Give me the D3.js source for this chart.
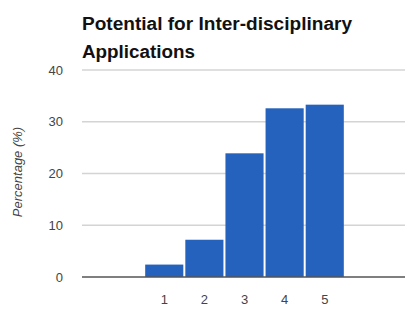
<!DOCTYPE html>
<html>
<head>
<meta charset="utf-8">
<script src="https://cdn.jsdelivr.net/npm/d3@7"></script>
<style>
  body { margin: 0; background: #fff; }
</style>
</head>
<body>
<div id="chart"></div>
<script>
// chart data
var categories = ['1', '2', '3', '4', '5'];
var values = [2.4, 7.2, 23.9, 32.6, 33.3];
var yTicks = [0, 10, 20, 30, 40];

var attrs = {
  svgWidth: 405,
  svgHeight: 314,
  barColor: '#2462bd',
  gridColor: '#d4d4d4',
  axisColor: '#555',
  textFill: '#444',
  font: 'Liberation Sans, Arial, sans-serif'
};

var svg = d3.select('#chart').append('svg')
  .attr('width', attrs.svgWidth)
  .attr('height', attrs.svgHeight)
  .attr('font-family', attrs.font);

// x: slot positions, two empty slots either side of the categories
var x = d3.scaleLinear().domain([-1.05, 7]).range([82, 405]);
var y = d3.scaleLinear().domain([0, 40]).range([277, 70]);
var barW = x(0.95) - x(0);

// grid lines
svg.append('g').selectAll('line')
  .data(yTicks.filter(d => d > 0))
  .join('line')
  .attr('x1', 82).attr('x2', 405)
  .attr('y1', d => y(d)).attr('y2', d => y(d))
  .attr('stroke', attrs.gridColor)
  .attr('stroke-width', 1.5);

// bars
svg.append('g').selectAll('rect')
  .data(values)
  .join('rect')
  .attr('x', (d, i) => x(i + 1) - barW / 2)
  .attr('width', barW)
  .attr('y', d => y(d))
  .attr('height', d => y(0) - y(d))
  .attr('fill', attrs.barColor);

// baseline
svg.append('line')
  .attr('x1', 82).attr('x2', 405)
  .attr('y1', y(0)).attr('y2', y(0))
  .attr('stroke', attrs.axisColor)
  .attr('stroke-width', 1.5);

// y tick labels
svg.append('g').selectAll('text')
  .data(yTicks)
  .join('text')
  .attr('x', 63)
  .attr('y', d => y(d))
  .attr('dy', '0.35em')
  .attr('text-anchor', 'end')
  .attr('font-size', 13)
  .attr('fill', attrs.textFill)
  .text(d => d);

// x tick labels
svg.append('g').selectAll('text')
  .data(categories)
  .join('text')
  .attr('x', (d, i) => x(i + 1))
  .attr('y', 304)
  .attr('text-anchor', 'middle')
  .attr('font-size', 13)
  .attr('fill', attrs.textFill)
  .text(d => d);

// y axis title
svg.append('text')
  .attr('transform', 'translate(22,172) rotate(-90)')
  .attr('text-anchor', 'middle')
  .attr('font-size', 13)
  .attr('font-style', 'italic')
  .attr('fill', attrs.textFill)
  .text('Percentage (%)');

// title
var title = svg.append('text')
  .attr('x', 82)
  .attr('font-size', 17.5)
  .attr('font-weight', 'bold')
  .attr('fill', '#111');
title.append('tspan').attr('x', 82).attr('y', 30)
  .attr('textLength', 270).attr('lengthAdjust', 'spacingAndGlyphs')
  .text('Potential for Inter-disciplinary');
title.append('tspan').attr('x', 82).attr('y', 57.5)
  .attr('textLength', 113).attr('lengthAdjust', 'spacingAndGlyphs')
  .text('Applications');
</script>
</body>
</html>
